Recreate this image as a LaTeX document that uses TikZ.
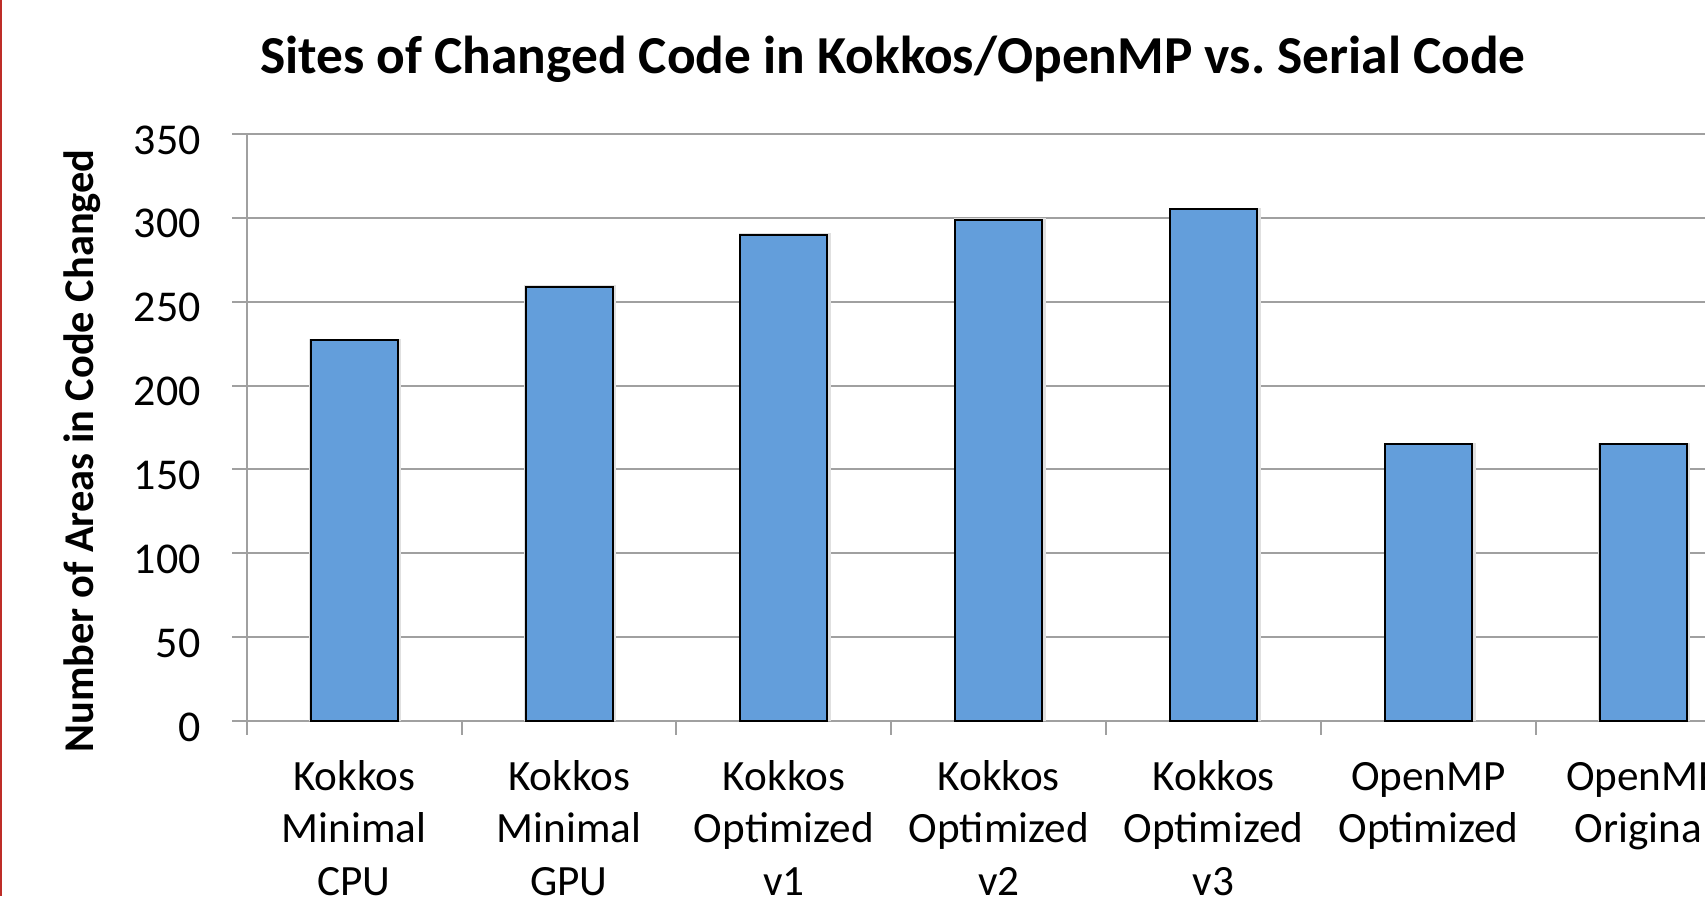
\documentclass[tikz,border=0pt]{standalone}
\usepackage{fontspec}
\setmainfont{Carlito}
\frenchspacing
\definecolor{barblue}{RGB}{99,158,219}
\definecolor{gridgray}{RGB}{160,160,160}
\definecolor{edgered}{RGB}{190,45,40}
\begin{document}
\begin{tikzpicture}[x=0.5pt,y=-0.5pt,
  gridline/.style={draw=gridgray,line width=1pt},
  barbox/.style={draw=black,fill=barblue,line width=1pt},
  barshadow/.style={draw=black!12,line width=2.5pt},
  ticklab/.style={anchor=base east,font=\fontsize{22}{26}\selectfont,inner sep=0pt},
  catlab/.style={anchor=base,align=center,font=\fontsize{21.6}{26.35}\selectfont,inner sep=0pt},
  titlelab/.style={anchor=base,font=\bfseries\fontsize{26.7}{32}\selectfont,inner sep=0pt},
  axislab/.style={anchor=base,rotate=90,font=\bfseries\fontsize{21.2}{26}\selectfont,inner sep=0pt}]
\useasboundingbox (0,0) rectangle (1705,896);
\clip (0,0) rectangle (1705,896);
\fill[white] (0,0) rectangle (1705,896);
\fill[edgered] (0,0) rectangle (2,896);
% gridlines and tick labels
\foreach \v in {0,50,...,350}{
  \pgfmathsetmacro{\yy}{721-1.67714*\v}
  \coordinate (gl\v) at (232,\yy);
  \coordinate (gr\v) at (1720,\yy);
  \draw[gridline] (gl\v) -- (gr\v);
  \node[ticklab] (t\v) at (201,\yy+20) {\v};
}
% axis
\coordinate (axtop) at (246.7,134);
\coordinate (axbot) at (246.7,735);
\draw[gridline] (axtop) -- (axbot);
\foreach \k in {1,...,6}{
  \coordinate (tk\k) at (246.7+214.88*\k,721);
  \coordinate (tb\k) at (246.7+214.88*\k,735);
  \draw[gridline] (tk\k) -- (tb\k);
}
% bars
\foreach \k/\val in {0/227,1/259,2/290,3/299,4/305,5/165,6/165}{
  \pgfmathsetmacro{\cx}{354.15+214.88*\k}
  \pgfmathsetmacro{\yt}{721-1.67714*\val}
  \draw[barshadow] (\cx-43.5+1,721) -- (\cx-43.5+1,\yt+1) -- (\cx+43.5+1,\yt+1) -- (\cx+43.5+1,721);
  \draw[barbox] (\cx-43.5,721) rectangle (\cx+43.5,\yt);
  \coordinate (bar\k) at (\cx,\yt);
}
% category labels (base anchor = baseline of last line)
\foreach \k/\yb/\txt in {0/895.4/{Kokkos\\Minimal\\CPU},1/895.4/{Kokkos\\Minimal\\GPU},2/895.4/{Kokkos\\Optimized\\v1},3/895.4/{Kokkos\\Optimized\\v2},4/895.4/{Kokkos\\Optimized\\v3},5/842.7/{OpenMP\\Optimized},6/842.7/{OpenMP\\Original}}{
  \node[catlab] (c\k) at (354.15+214.88*\k,\yb) {\txt};
}
\node[titlelab] (title) at (893,73.3) {Sites of Changed Code in Kokkos/OpenMP vs. Serial Code};
\node[axislab] (ylab) at (93.3,451) {Number of Areas in Code Changed};
\end{tikzpicture}
\end{document}
